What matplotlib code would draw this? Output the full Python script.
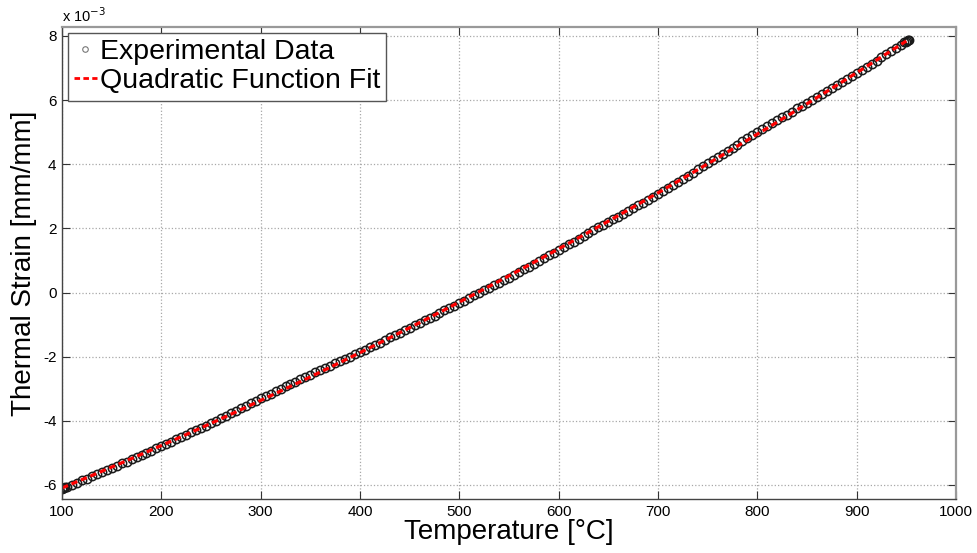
import numpy as np
import matplotlib
matplotlib.use('Agg')
import matplotlib.pyplot as plt

plt.rcParams['font.family'] = ['Liberation Sans', 'DejaVu Sans']
plt.rcParams['axes.unicode_minus'] = False

# temperature [C] where the experimental band was read
temp = [100, 105, 110, 115, 120, 125, 130, 135, 140, 145,
        150, 155, 160, 165, 170, 175, 180, 185, 190, 195,
        200, 205, 210, 215, 220, 225, 230, 235, 240, 245,
        250, 255, 260, 265, 270, 275, 280, 285, 290, 295,
        300, 305, 310, 315, 320, 325, 330, 335, 340, 345,
        350, 355, 360, 365, 370, 375, 380, 385, 390, 395,
        400, 405, 410, 415, 420, 425, 430, 435, 440, 445,
        450, 455, 460, 465, 470, 475, 480, 485, 490, 495,
        500, 505, 510, 515, 520, 525, 530, 535, 540, 545,
        550, 555, 560, 565, 570, 575, 580, 585, 590, 595,
        600, 605, 610, 615, 620, 625, 630, 635, 640, 645,
        650, 655, 660, 665, 670, 675, 680, 685, 690, 695,
        700, 705, 710, 715, 720, 725, 730, 735, 740, 745,
        750, 755, 760, 765, 770, 775, 780, 785, 790, 795,
        800, 805, 810, 815, 820, 825, 830, 835, 840, 845,
        850, 855, 860, 865, 870, 875, 880, 885, 890, 895,
        900, 905, 910, 915, 920, 925, 930, 935, 940, 945,
        950, 101, 102, 103, 948, 951, 952, 953]

# thermal strain [x 1e-3 mm/mm]
strain = [-6.12, -6.06, -5.99, -5.93, -5.86, -5.80, -5.73, -5.67, -5.60, -5.54,
          -5.47, -5.40, -5.33, -5.27, -5.20, -5.13, -5.06, -4.99, -4.93, -4.86,
          -4.79, -4.72, -4.65, -4.58, -4.51, -4.44, -4.36, -4.29, -4.22, -4.15,
          -4.08, -4.00, -3.92, -3.85, -3.77, -3.69, -3.61, -3.53, -3.46, -3.38,
          -3.30, -3.23, -3.15, -3.08, -3.00, -2.93, -2.86, -2.78, -2.71, -2.63,
          -2.56, -2.49, -2.42, -2.35, -2.28, -2.21, -2.14, -2.07, -2.00, -1.93,
          -1.86, -1.78, -1.71, -1.63, -1.56, -1.48, -1.40, -1.33, -1.25, -1.18,
          -1.10, -1.02, -0.95, -0.87, -0.79, -0.72, -0.64, -0.56, -0.48, -0.41,
          -0.33, -0.25, -0.17, -0.09, -0.01, 0.07, 0.14, 0.22, 0.30, 0.38,
          0.46, 0.55, 0.63, 0.72, 0.81, 0.90, 0.98, 1.07, 1.16, 1.24,
          1.33, 1.42, 1.50, 1.59, 1.68, 1.77, 1.85, 1.94, 2.03, 2.11,
          2.20, 2.29, 2.37, 2.46, 2.54, 2.63, 2.72, 2.80, 2.89, 2.97,
          3.06, 3.16, 3.25, 3.35, 3.45, 3.55, 3.64, 3.74, 3.84, 3.93,
          4.03, 4.13, 4.22, 4.32, 4.42, 4.52, 4.61, 4.71, 4.81, 4.90,
          5.00, 5.09, 5.18, 5.28, 5.37, 5.46, 5.55, 5.64, 5.74, 5.83,
          5.92, 6.01, 6.10, 6.20, 6.29, 6.38, 6.47, 6.56, 6.66, 6.75,
          6.84, 6.94, 7.04, 7.13, 7.23, 7.33, 7.43, 7.53, 7.62, 7.72,
          7.82, -6.10, -6.09, -6.07, 7.80, 7.84, 7.86, 7.87]

x_ticks = [100, 200, 300, 400, 500, 600, 700, 800, 900, 1000]
y_ticks = [-6, -4, -2, 0, 2, 4, 6, 8]

# quadratic fit of the experimental data
coef = np.polyfit(temp, strain, 2)
t_fit = np.sort(np.array(temp[:171]))
e_fit = np.polyval(coef, t_fit)

fig = plt.figure(figsize=(9.77, 5.53), dpi=100)
ax = fig.add_axes([0.0635, 0.0976, 0.915, 0.8536])

ax.plot(temp, strain, linestyle='none', marker='o', markersize=6,
        markerfacecolor='none', markeredgecolor='#1a1a1a', markeredgewidth=1.1,
        label='Experimental Data')
ax.plot(t_fit, e_fit, color='red', linewidth=2.3, dashes=[2.0, 1.2],
        label='Quadratic Function Fit')

ax.set_xlim(100, 1000)
ax.set_ylim(-6.44, 8.28)
ax.set_xticks(x_ticks)
ax.set_yticks(y_ticks)
ax.tick_params(direction='in', length=6, width=0.8, top=True, right=True,
               labelsize=11, colors='#333333', labelcolor='black', pad=4)
ax.grid(True, linestyle=':', color='#a8a8a8', linewidth=0.9)

for side in ['left', 'bottom']:
    ax.spines[side].set_color('#444444')
    ax.spines[side].set_linewidth(1.0)
for side in ['top', 'right']:
    ax.spines[side].set_color('#999999')
    ax.spines[side].set_linewidth(1.6)

ax.set_xlabel('Temperature [°C]', fontsize=20, labelpad=0)
ax.set_ylabel('Thermal Strain [mm/mm]', fontsize=20, labelpad=4)
ax.text(0.0, 1.005, 'x 10$^{-3}$', transform=ax.transAxes, fontsize=10.5,
        ha='left', va='bottom')

# small grey circle for the legend, like the original
h_data = plt.Line2D([], [], linestyle='none', marker='o', markersize=4,
                    markerfacecolor='none', markeredgecolor='#777777',
                    markeredgewidth=0.8)
h_fit = plt.Line2D([], [], color='red', linewidth=2, dashes=[2.0, 1.2])
leg = ax.legend([h_data, h_fit], ['Experimental Data', 'Quadratic Function Fit'],
                loc='upper left', fontsize=20.5, frameon=True, fancybox=False,
                borderpad=0.22, handlelength=0.8, handletextpad=0.1,
                labelspacing=0.12, borderaxespad=0.2)
leg.get_frame().set_edgecolor('#555555')
leg.get_frame().set_linewidth(1.0)
leg.get_frame().set_alpha(1.0)

fig.savefig('out.png', dpi=100)
